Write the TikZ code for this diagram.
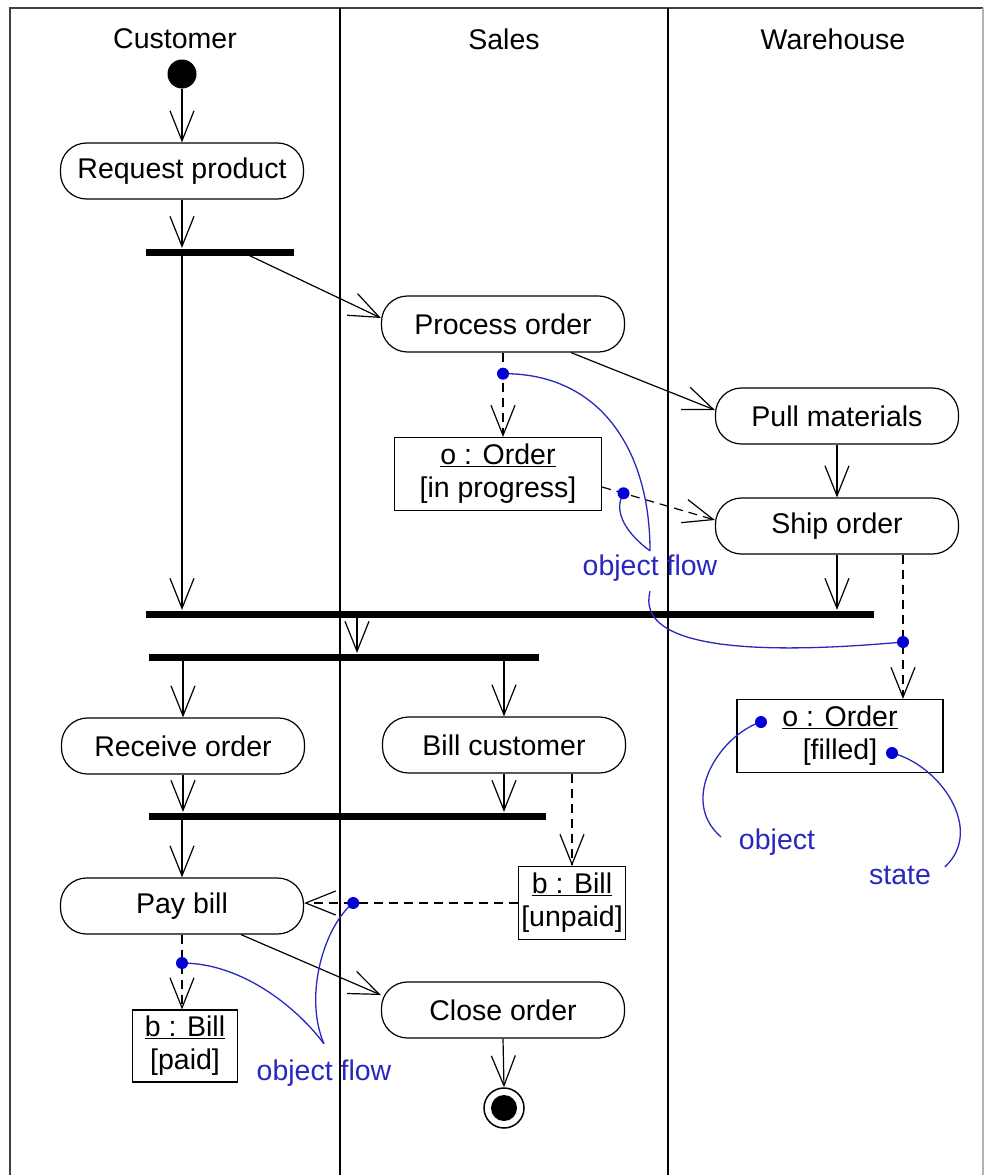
\documentclass[tikz,border=0pt]{standalone}
\usepackage{fontspec}
\setmainfont{Liberation Sans}
\usetikzlibrary{arrows.meta,calc}
\definecolor{annot}{RGB}{40,40,190}
\definecolor{annotdot}{RGB}{0,0,215}

\begin{document}
\begin{tikzpicture}[x=1pt, y=-1pt, line width=1.2pt,
  font=\fontsize{28.5}{33}\selectfont,
  action/.style={draw, rounded corners=26pt, minimum width=243pt, minimum height=56pt, inner sep=0pt},
  objbox/.style={draw, align=center, inner sep=3pt, minimum height=73pt},
  bar/.style={fill=black, inner sep=0pt, minimum height=7pt},
  flow/.style={-{Straight Barb[length=30pt,width=24pt]}},
  objflow/.style={flow, dash pattern=on 9pt off 6pt},
  dot/.style={circle, fill=annotdot, inner sep=0pt, minimum size=12pt},
  noteline/.style={draw=annot, line width=1.3pt},
  notetext/.style={text=annot}]
  \useasboundingbox (0,0) rectangle (986,1175);

  % swimlanes
  \draw[line width=2pt, black!75] (10,1175) -- (10,8) -- (983,8);
  \draw[black!30] (983,8) -- (983,1175);
  \draw (340,8) -- (340,1175);
  \draw (668,8) -- (668,1175);
  \node (cust) at (175,39) {Customer};
  \node (sales) at (504,39) {Sales};
  \node (wareh) at (833,39) {Warehouse};

  % activities
  \node[circle, fill, minimum size=29pt, inner sep=0pt] (start) at (182,74) {};
  \node[action] (request) at (182,171) {Request product};
  \node[bar, minimum width=148pt] (fork1) at (220,252) {};
  \node[action] (process) at (503,324) {Process order};
  \node[action] (pull) at (837,416) {Pull materials};
  \node[action] (ship) at (837,526) {Ship order};
  \node[objbox, minimum width=207pt] (orderIP) at (498,474) {\underline{o : Order}\\{[in progress]}};
  \node[bar, minimum width=728pt] (join1) at (510,614) {};
  \node[bar, minimum width=390pt] (fork2) at (344,657) {};
  \node[objbox, minimum width=206pt] (orderF) at (840,736) {\underline{o : Order}\\{[filled]}};
  \node[action] (receive) at (183,746) {Receive order};
  \node[action] (bill) at (504,745) {Bill customer};
  \node[bar, minimum width=397pt] (join2) at (347,816) {};
  \node[action] (pay) at (182,906) {Pay bill};
  \node[objbox, minimum width=107pt] (billU) at (572,903) {\underline{b : Bill}\\{[unpaid]}};
  \node[action] (close) at (503,1010) {Close order};
  \node[objbox, minimum width=105pt, minimum height=72pt] (billP) at (185,1046) {\underline{b : Bill}\\{[paid]}};
  \node[circle, draw, line width=1.5pt, minimum size=40pt, inner sep=0pt] (final) at (504,1108) {};
  \node[circle, fill, minimum size=26pt, inner sep=0pt] (finalin) at (final) {};

  % control flow
  \draw[flow] (start) -- (request.north);
  \draw[flow] (request.south) -- (request.south |- fork1.north);
  \draw[flow] (request.south |- fork1.south) -- (request.south |- join1.north);
  \draw[flow] ([xshift=22pt]fork1.center) -- ([yshift=6pt]process.west);
  \draw[flow] ([xshift=68pt]process.south) -- ([yshift=6pt]pull.west);
  \draw[flow] (pull.south) -- (ship.north);
  \draw[flow] (ship.south) -- (ship.south |- join1.north);
  \draw[flow] ([xshift=13pt]fork2.north |- join1.south) -- ([xshift=13pt]fork2.north);
  \draw[flow] (receive.north |- fork2.south) -- (receive.north);
  \draw[flow] (bill.north |- fork2.south) -- (bill.north);
  \draw[flow] (receive.south) -- (receive.south |- join2.north);
  \draw[flow] (bill.south) -- (bill.south |- join2.north);
  \draw[flow] (pay.north |- join2.south) -- (pay.north);
  \draw[flow] ([xshift=59pt]pay.south) -- ([yshift=15pt]close.west);
  \draw[flow] (close.south) -- (final.north);

  % object flow
  \draw[objflow] (process.south) -- (process.south |- orderIP.north);
  \draw[objflow] ([yshift=-13pt]orderIP.east) -- ([yshift=6pt]ship.west);
  \draw[objflow] ([xshift=66pt]ship.south) -- ([xshift=66pt]ship.south |- orderF.north);
  \draw[objflow] (billU.north |- bill.south) -- (billU.north);
  \draw[objflow] (billU.west) -- (billU.west -| pay.east);
  \draw[objflow] (pay.south) -- (pay.south |- billP.north);

  % notes
  \node[notetext] (flowA) at (650,568) {object flow};
  \node[notetext] (flowB) at (324,1073) {object flow};
  \node[notetext] (objlbl) at (777,842) {object};
  \node[notetext] (statelbl) at (900,875) {state};
  \coordinate (dotA) at ($(process.south)!0.25!(process.south |- orderIP.north)$);
  \coordinate (dotB) at ($([yshift=-13pt]orderIP.east)!0.19!([yshift=6pt]ship.west)$);
  \coordinate (dotC) at (903,642);
  \coordinate (dotD) at ($(billU.west)!0.77!(billU.west -| pay.east)$);
  \coordinate (dotE) at ($(pay.south)!0.38!(pay.south |- billP.north)$);
  \coordinate (dotF) at (761,722);
  \coordinate (dotG) at (892,753);
  \draw[noteline] (dotA) .. controls (600,373) and (650,450) .. (flowA.north);
  \draw[noteline] (dotB) .. controls (612,512) and (628,535) .. (flowA.north);
  \draw[noteline] ([yshift=-6pt]flowA.south) .. controls (635,650) and (760,655) .. (dotC);
  \draw[noteline] (dotD) .. controls (325,925) and (303,995) .. ([yshift=12pt]flowB.north);
  \draw[noteline] (dotE) .. controls (240,963) and (295,1005) .. ([yshift=12pt]flowB.north);
  \draw[noteline] (dotF) .. controls (720,735) and (678,800) .. ([xshift=-14pt,yshift=5pt]objlbl.west);
  \draw[noteline] (dotG) .. controls (940,765) and (985,830) .. ([xshift=10pt,yshift=8pt]statelbl.east);
  \foreach \d in {dotA,dotB,dotC,dotD,dotE,dotF,dotG}
    \node[dot] at (\d) {};
\end{tikzpicture}
\end{document}
